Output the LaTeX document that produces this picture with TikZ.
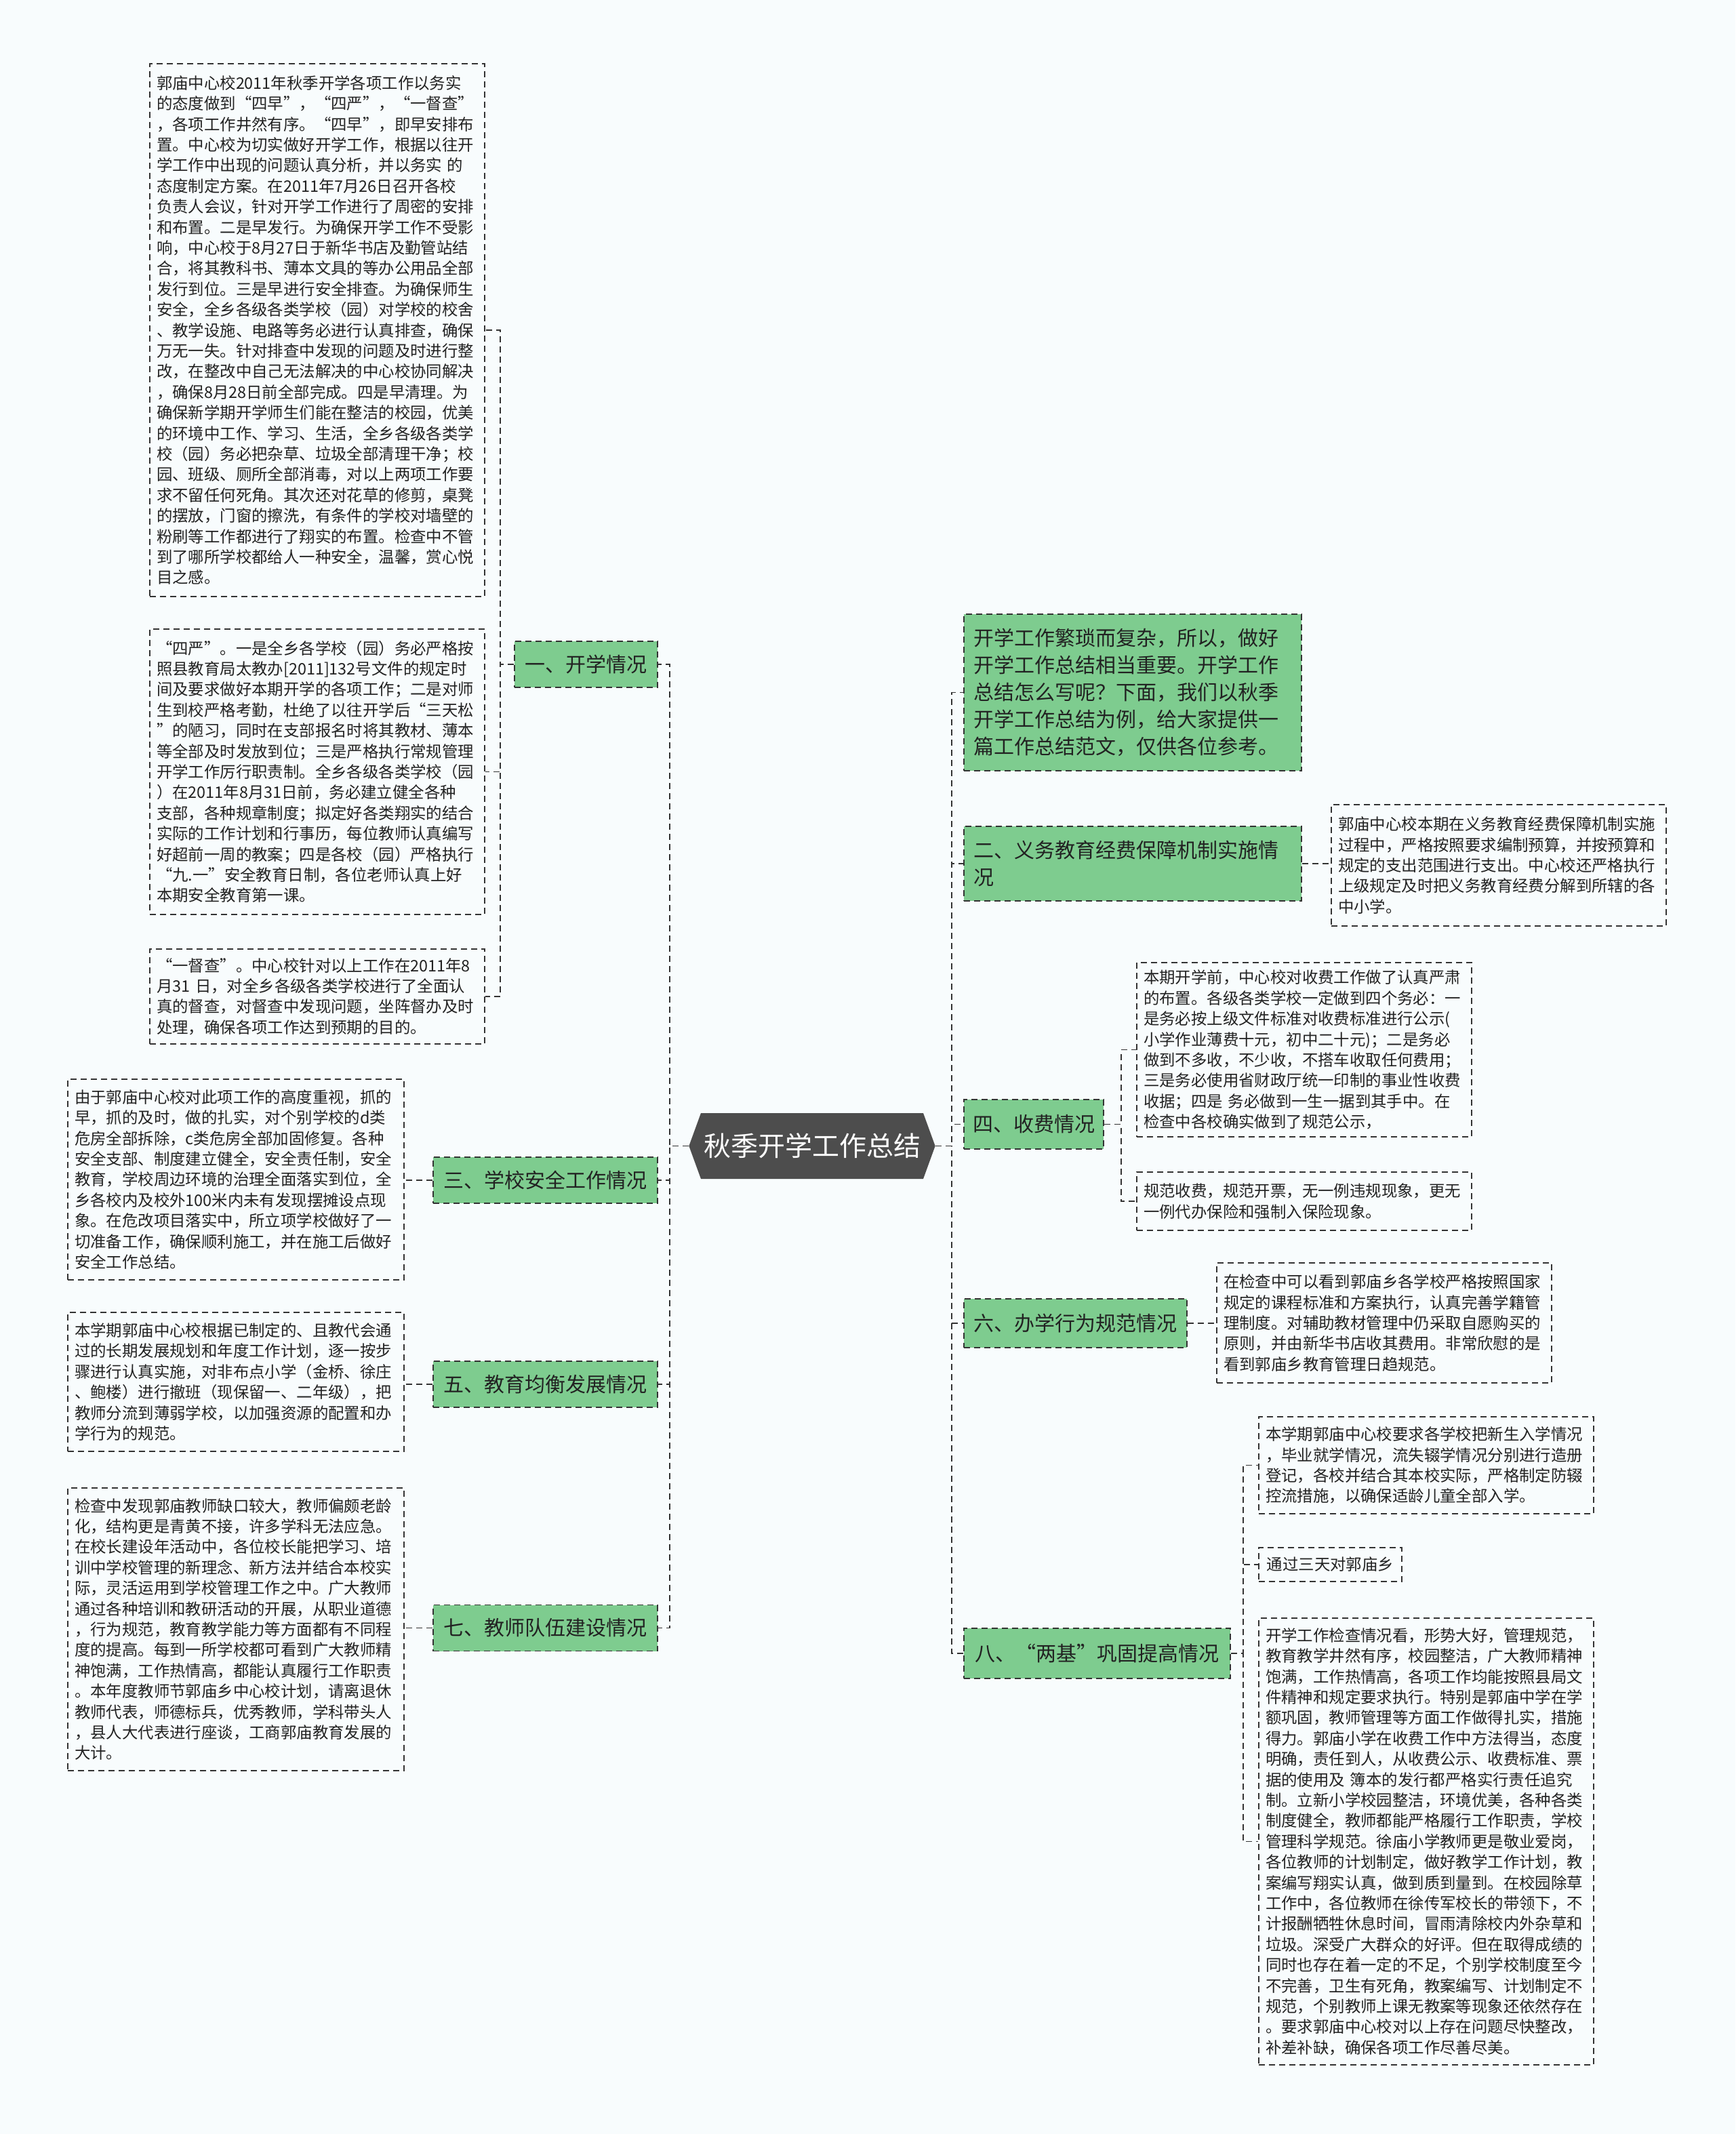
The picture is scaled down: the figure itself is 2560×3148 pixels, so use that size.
\documentclass[tikz,border=0pt]{standalone}
\usepackage{fontspec}
\setmainfont{Noto Sans CJK SC}
\usetikzlibrary{shapes.symbols}
\definecolor{bgcol}{RGB}{248,252,253}
\definecolor{linecol}{RGB}{51,51,51}
\definecolor{greencol}{RGB}{126,204,143}
\definecolor{centercol}{RGB}{77,77,77}
\definecolor{txtcol}{RGB}{34,34,34}
\tikzset{
  dashln/.style={draw=linecol, line width=0.9pt, dash pattern=on 4.5pt off 3pt},
  conn/.style={dashln},
  tbox/.style={dashln, fill=bgcol, text=txtcol, font=\fontsize{11.7pt}{15.2pt}\selectfont, align=left, inner xsep=5pt, inner ysep=4pt},
  gbox/.style={dashln, fill=greencol, text=txtcol, font=\fontsize{15pt}{20pt}\selectfont, inner xsep=6pt, inner ysep=4pt},
  cbox/.style={signal, signal to=west and east, signal pointer angle=140, fill=centercol, text=white, font=\fontsize{20pt}{24pt}\selectfont, inner xsep=2pt}
}
\begin{document}
\begin{tikzpicture}[x=0.5pt,y=-0.5pt]
\fill[bgcol] (0,0) rectangle (2560,3148);
\useasboundingbox (0,0) rectangle (2560,3148);

% centre
\node[cbox, minimum width=168pt, minimum height=48.5pt] (c) at (1198,1690.5) {秋季开学工作总结};

% left branch nodes
\node[gbox, minimum width=105.5pt, minimum height=34pt] (g1) at (864.5,980) {一、开学情况};
\node[gbox, minimum width=165.5pt, minimum height=34pt] (g3) at (804.5,1741) {三、学校安全工作情况};
\node[gbox, minimum width=165.5pt, minimum height=34pt] (g5) at (804.5,2042) {五、教育均衡发展情况};
\node[gbox, minimum width=165.5pt, minimum height=34pt] (g7) at (804.5,2401.5) {七、教师队伍建设情况};

% left text boxes
\node[tbox, text width=237pt, minimum height=393pt] (tA) at (468,487) {郭庙中心校2011年秋季开学各项工作以务实\\的态度做到“四早”，“四严”，“一督查”\\，各项工作井然有序。“四早”，即早安排布\\置。中心校为切实做好开学工作，根据以往开\\学工作中出现的问题认真分析，并以务实 的\\态度制定方案。在2011年7月26日召开各校\\负责人会议，针对开学工作进行了周密的安排\\和布置。二是早发行。为确保开学工作不受影\\响，中心校于8月27日于新华书店及勤管站结\\合，将其教科书、薄本文具的等办公用品全部\\发行到位。三是早进行安全排查。为确保师生\\安全，全乡各级各类学校（园）对学校的校舍\\、教学设施、电路等务必进行认真排查，确保\\万无一失。针对排查中发现的问题及时进行整\\改，在整改中自己无法解决的中心校协同解决\\，确保8月28日前全部完成。四是早清理。为\\确保新学期开学师生们能在整洁的校园，优美\\的环境中工作、学习、生活，全乡各级各类学\\校（园）务必把杂草、垃圾全部清理干净；校\\园、班级、厕所全部消毒，对以上两项工作要\\求不留任何死角。其次还对花草的修剪，桌凳\\的摆放，门窗的擦洗，有条件的学校对墙壁的\\粉刷等工作都进行了翔实的布置。检查中不管\\到了哪所学校都给人一种安全，温馨，赏心悦\\目之感。};
\node[tbox, text width=237pt, minimum height=210.5pt] (tB) at (468,1138.5) {“四严”。一是全乡各学校（园）务必严格按\\照县教育局太教办[2011]132号文件的规定时\\间及要求做好本期开学的各项工作；二是对师\\生到校严格考勤，杜绝了以往开学后“三天松\\”的陋习，同时在支部报名时将其教材、薄本\\等全部及时发放到位；三是严格执行常规管理\\开学工作厉行职责制。全乡各级各类学校（园\\）在2011年8月31日前，务必建立健全各种\\支部，各种规章制度；拟定好各类翔实的结合\\实际的工作计划和行事历，每位教师认真编写\\好超前一周的教案；四是各校（园）严格执行\\“九.一”安全教育日制，各位老师认真上好\\本期安全教育第一课。};
\node[tbox, text width=237pt, minimum height=70pt] (tC) at (468,1470) {“一督查”。中心校针对以上工作在2011年8\\月31 日，对全乡各级各类学校进行了全面认\\真的督查，对督查中发现问题，坐阵督办及时\\处理，确保各项工作达到预期的目的。};
\node[tbox, text width=238pt, minimum height=148pt] (tD) at (348,1740) {由于郭庙中心校对此项工作的高度重视，抓的\\早，抓的及时，做的扎实，对个别学校的d类\\危房全部拆除，c类危房全部加固修复。各种\\安全支部、制度建立健全，安全责任制，安全\\教育，学校周边环境的治理全面落实到位，全\\乡各校内及校外100米内未有发现摆摊设点现\\象。在危改项目落实中，所立项学校做好了一\\切准备工作，确保顺利施工，并在施工后做好\\安全工作总结。};
\node[tbox, text width=238pt, minimum height=102.5pt] (tE) at (348,2038.5) {本学期郭庙中心校根据已制定的、且教代会通\\过的长期发展规划和年度工作计划，逐一按步\\骤进行认真实施，对非布点小学（金桥、徐庄\\、鲍楼）进行撤班（现保留一、二年级），把\\教师分流到薄弱学校，以加强资源的配置和办\\学行为的规范。};
\node[tbox, text width=238pt, minimum height=208.5pt] (tF) at (348,2403.5) {检查中发现郭庙教师缺口较大，教师偏颇老龄\\化，结构更是青黄不接，许多学科无法应急。\\在校长建设年活动中，各位校长能把学习、培\\训中学校管理的新理念、新方法并结合本校实\\际，灵活运用到学校管理工作之中。广大教师\\通过各种培训和教研活动的开展，从职业道德\\，行为规范，教育教学能力等方面都有不同程\\度的提高。每到一所学校都可看到广大教师精\\神饱满，工作热情高，都能认真履行工作职责\\。本年度教师节郭庙乡中心校计划，请离退休\\教师代表，师德标兵，优秀教师，学科带头人\\，县人大代表进行座谈，工商郭庙教育发展的\\大计。};

% right branch nodes
\node[gbox, text width=235pt, inner xsep=7pt, align=left, minimum height=115.5pt] (gi) at (1671,1021.5) {开学工作繁琐而复杂，所以，做好\\开学工作总结相当重要。开学工作\\总结怎么写呢？下面，我们以秋季\\开学工作总结为例，给大家提供一\\篇工作总结范文，仅供各位参考。};
\node[gbox, text width=235pt, inner xsep=7pt, align=left, minimum height=55pt] (g2) at (1671,1274) {二、义务教育经费保障机制实施情\\况};
\node[gbox, minimum width=103pt, minimum height=36.5pt] (g4) at (1525,1658.5) {四、收费情况};
\node[gbox, minimum width=164.5pt, minimum height=36pt] (g6) at (1586.5,1952) {六、办学行为规范情况};
\node[gbox, minimum width=196.5pt, minimum height=37pt] (g8) at (1618.5,2439) {八、“两基”巩固提高情况};

% right text boxes
\node[tbox, text width=237pt, minimum height=89.5pt] (t2) at (2211,1276.5) {郭庙中心校本期在义务教育经费保障机制实施\\过程中，严格按照要求编制预算，并按预算和\\规定的支出范围进行支出。中心校还严格执行\\上级规定及时把义务教育经费分解到所辖的各\\中小学。};
\node[tbox, text width=237pt, minimum height=128.5pt] (t41) at (1924,1548.5) {本期开学前，中心校对收费工作做了认真严肃\\的布置。各级各类学校一定做到四个务必：一\\是务必按上级文件标准对收费标准进行公示(\\小学作业薄费十元，初中二十元)；二是务必\\做到不多收，不少收，不搭车收取任何费用；\\三是务必使用省财政厅统一印制的事业性收费\\收据；四是 务必做到一生一据到其手中。在\\检查中各校确实做到了规范公示，};
\node[tbox, text width=237pt, minimum height=43pt] (t42) at (1924,1772) {规范收费，规范开票，无一例违规现象，更无\\一例代办保险和强制入保险现象。};
\node[tbox, text width=237pt, minimum height=88.5pt] (t6) at (2042,1951.5) {在检查中可以看到郭庙乡各学校严格按照国家\\规定的课程标准和方案执行，认真完善学籍管\\理制度。对辅助教材管理中仍采取自愿购买的\\原则，并由新华书店收其费用。非常欣慰的是\\看到郭庙乡教育管理日趋规范。};
\node[tbox, text width=237pt, minimum height=71.5pt] (t81) at (2104,2161.5) {本学期郭庙中心校要求各学校把新生入学情况\\，毕业就学情况，流失辍学情况分别进行造册\\登记，各校并结合其本校实际，严格制定防辍\\控流措施，以确保适龄儿童全部入学。};
\node[tbox, minimum width=105.5pt, minimum height=25pt] (t82) at (1962.5,2308) {通过三天对郭庙乡};
\node[tbox, text width=237pt, minimum height=329.5pt] (t83) at (2104,2716.5) {开学工作检查情况看，形势大好，管理规范，\\教育教学井然有序，校园整洁，广大教师精神\\饱满，工作热情高，各项工作均能按照县局文\\件精神和规定要求执行。特别是郭庙中学在学\\额巩固，教师管理等方面工作做得扎实，措施\\得力。郭庙小学在收费工作中方法得当，态度\\明确，责任到人，从收费公示、收费标准、票\\据的使用及 簿本的发行都严格实行责任追究\\制。立新小学校园整洁，环境优美，各种各类\\制度健全，教师都能严格履行工作职责，学校\\管理科学规范。徐庙小学教师更是敬业爱岗，\\各位教师的计划制定，做好教学工作计划，教\\案编写翔实认真，做到质到量到。在校园除草\\工作中，各位教师在徐传军校长的带领下，不\\计报酬牺牲休息时间，冒雨清除校内外杂草和\\垃圾。深受广大群众的好评。但在取得成绩的\\同时也存在着一定的不足，个别学校制度至今\\不完善，卫生有死角，教案编写、计划制定不\\规范，个别教师上课无教案等现象还依然存在\\。要求郭庙中心校对以上存在问题尽快整改，\\补差补缺，确保各项工作尽善尽美。};

% connectors: centre to branches
\foreach \g in {g1,g3,g5,g7}
  \draw[conn] (c.west) -- ++(-28,0) |- (\g.east);
\foreach \g in {gi,g2,g4,g6,g8}
  \draw[conn] (c.east) -- ++(24,0) |- (\g.west);

% branches to leaves
\foreach \t in {tA,tB,tC}
  \draw[conn] (g1.west) -- ++(-20,0) |- (\t.east);
\draw[conn] (g3.west) -- (tD.east |- g3.west);
\draw[conn] (g5.west) -- (tE.east |- g5.west);
\draw[conn] (g7.west) -- (tF.east |- g7.west);
\draw[conn] (g2.east) -- (t2.west |- g2.east);
\foreach \t in {t41,t42}
  \draw[conn] (g4.east) -- ++(25,0) |- (\t.west);
\draw[conn] (g6.east) -- (t6.west |- g6.east);
\foreach \t in {t81,t82,t83}
  \draw[conn] (g8.east) -- ++(18,0) |- (\t.west);
\end{tikzpicture}
\end{document}
